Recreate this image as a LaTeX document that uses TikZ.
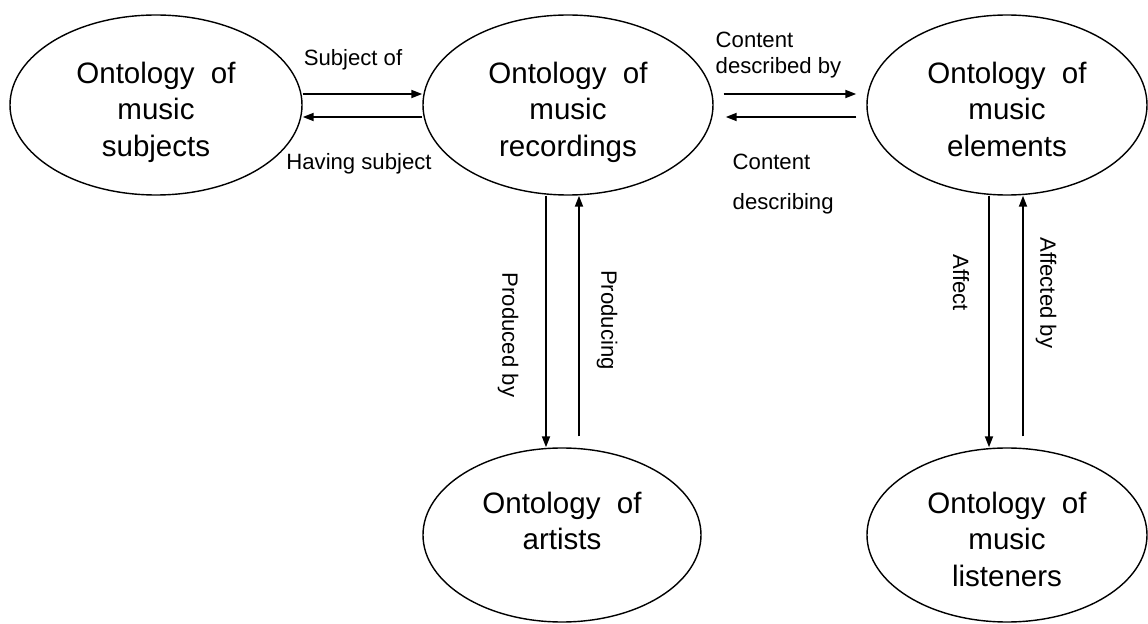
\documentclass[tikz,border=0pt]{standalone}
\usepackage{fontspec}
\setmainfont{Liberation Sans}
\usetikzlibrary{shapes,arrows.meta,positioning}
\newcommand{\tgap}{\rule{0pt}{0.37cm}}
\newcommand{\bgap}{\rule[-0.07cm]{0pt}{0pt}}

\begin{document}
\begin{tikzpicture}[onto/.style={ellipse,draw,line width=0.4pt,inner sep=0pt,
    minimum width=2.9cm,minimum height=1.8cm,align=center,
    font=\fontsize{8.4}{10.5}\selectfont},
  rel/.style={line width=0.5pt,-{Triangle[length=0.11cm,width=0.08cm]}},
  lbl/.style={inner sep=0pt,font=\fontsize{6.3}{7.4}\selectfont}]
  \useasboundingbox (0,0) rectangle (11.48,6.23);
  % the five ontologies
  \node[onto,minimum width=2.92cm] (subj) at (1.56,5.18)
       {\tgap Ontology~ of\\music\\subjects\bgap};
  \node[onto] (rec) at (5.68,5.18)
       {\tgap Ontology~ of\\music\\recordings\bgap};
  \node[onto,minimum width=2.8cm] (elem) at (10.07,5.18)
       {\tgap Ontology~ of\\music\\elements\bgap};
  \node[onto,minimum width=2.78cm,minimum height=1.74cm] (art) at (5.62,0.88)
       {\tgap Ontology~ of\\artists\\ \bgap};
  \node[onto,minimum width=2.8cm,minimum height=1.74cm] (lis) at (10.07,0.88)
       {\tgap Ontology~ of\\music\\listeners\bgap};
  % relations
  \draw[rel] ([yshift=0.11cm]subj.east) -- ([yshift=0.11cm]rec.west);
  \draw[rel] ([yshift=-0.12cm]rec.west) -- ([yshift=-0.12cm]subj.east);
  \draw[rel,shorten <=0.1cm,shorten >=0.1cm]
       ([yshift=0.11cm]rec.east) -- ([yshift=0.11cm]elem.west);
  \draw[rel,shorten <=0.1cm,shorten >=0.12cm]
       ([yshift=-0.12cm]elem.west) -- ([yshift=-0.12cm]rec.east);
  \draw[rel] ([xshift=-0.22cm]rec.south) -- ([xshift=-0.22cm]rec.south |- art.north);
  \draw[rel,shorten <=0.11cm] ([xshift=0.11cm]rec.south |- art.north)
       -- ([xshift=0.11cm]rec.south);
  \draw[rel] ([xshift=-0.18cm]elem.south) -- ([xshift=-0.18cm]elem.south |- lis.north);
  \draw[rel,shorten <=0.11cm] ([xshift=0.16cm]elem.south |- lis.north)
       -- ([xshift=0.16cm]elem.south);
  % labels
  \node[lbl,anchor=base] (subjof) at (3.53,5.57) {Subject of};
  \node[lbl,anchor=base] (having) at (3.59,4.53) {Having subject};
  \node[lbl,anchor=north west,align=left] (descby) at (7.15,5.92)
       {Content\\described by};
  \node[lbl,anchor=north west,align=left,font=\fontsize{6.3}{11.4}\selectfont]
       (desc) at (7.32,4.70) {Content\\describing};
  \node[lbl,rotate=-90] (prodby) at (5.08,2.88) {Produced by};
  \node[lbl,rotate=-90] (prod) at (6.07,3.03) {Producing};
  \node[lbl,rotate=-90] (aff) at (9.61,3.40) {Affect};
  \node[lbl,rotate=-90] (affby) at (10.46,3.30) {Affected by};
\end{tikzpicture}
\end{document}
